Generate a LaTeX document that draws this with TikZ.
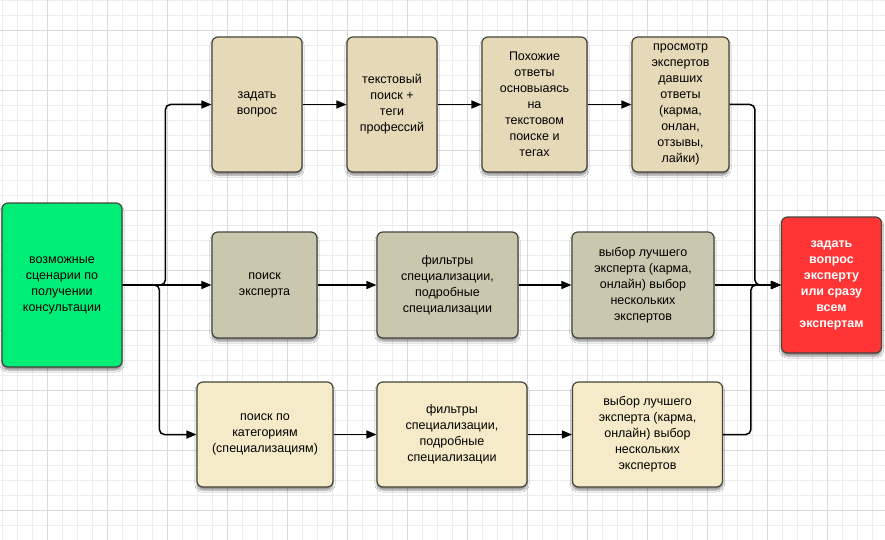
\documentclass[tikz,border=0pt]{standalone}
\usepackage{fontspec}
\setmainfont{Liberation Sans}
\usepackage{xcolor}
\usetikzlibrary{arrows.meta,shadows.blur}

\definecolor{startgreen}{HTML}{00EE78}
\definecolor{toptan}{HTML}{E6D9B8}
\definecolor{midgray}{HTML}{C9C8AE}
\definecolor{lowtan}{HTML}{F6EBC8}
\definecolor{endred}{HTML}{FF3535}
\definecolor{edge}{HTML}{45453C}
\definecolor{gridminor}{HTML}{EDEDED}
\definecolor{gridmajor}{HTML}{DADADA}

\tikzset{
  box/.style={draw=edge, line width=1.2pt, rounded corners=6pt, align=center,
    font=\fontsize{12.5}{16}\selectfont,
    blur shadow={shadow xshift=0pt, shadow yshift=-3pt, shadow blur steps=6, shadow opacity=45}},
  arr/.style={draw=black, line width=1.5pt, rounded corners=5pt,
    -{Triangle[length=10pt,width=8pt]}},
}

\begin{document}
\begin{tikzpicture}[x=1pt,y=-1pt]
\useasboundingbox (0,0) rectangle (885,540);
\fill[white] (0,0) rectangle (885,540);
% grid
\foreach \x in {2.3,17.3,...,885}
  \draw[gridminor, line width=0.8pt] (\x,0) -- (\x,540);
\foreach \y in {0.7,15.7,...,540}
  \draw[gridminor, line width=0.8pt] (0,\y) -- (885,\y);
\foreach \x in {47.3,107.3,...,885}
  \draw[gridmajor, line width=0.8pt] (\x,0) -- (\x,540);
\foreach \y in {30.7,90.7,...,540}
  \draw[gridmajor, line width=0.8pt] (0,\y) -- (885,\y);

% start and end
\node[box, fill=startgreen, minimum width=120pt, minimum height=164pt] (start) at (62,285)
  {возможные\\сценарии по\\получении\\консультации};
\node[box, fill=endred, text=white, font=\fontsize{12.5}{16}\selectfont\bfseries,
  minimum width=100pt, minimum height=136pt] (final) at (831.5,285)
  {задать\\вопрос\\эксперту\\или сразу\\всем\\экспертам};

% top row
\node[box, fill=toptan, minimum width=90pt, minimum height=135pt] (ask) at (257,104.5)
  {задать\\вопрос};
\node[box, fill=toptan, minimum width=90pt, minimum height=135pt] (search) at (392,104.5)
  {текстовый\\поиск +\\теги\\профессий};
\node[box, fill=toptan, minimum width=105pt, minimum height=135pt] (similar) at (534.5,104.5)
  {Похожие\\ответы\\основыаясь\\на\\текстовом\\поиске и\\тегах};
\node[box, fill=toptan, minimum width=97pt, minimum height=135pt] (view) at (680.5,104.5)
  {просмотр\\экспертов\\давших\\ответы\\(карма,\\онлан,\\отзывы,\\лайки)};

% middle row
\node[box, fill=midgray, minimum width=105pt, minimum height=106pt] (expert) at (264.5,285)
  {поиск\\эксперта};
\node[box, fill=midgray, minimum width=141pt, minimum height=106pt] (filtA) at (447.5,285)
  {фильтры\\специализации,\\подробные\\специализации};
\node[box, fill=midgray, minimum width=142pt, minimum height=106pt] (pickA) at (643,285)
  {выбор лучшего\\эксперта (карма,\\онлайн) выбор\\нескольких\\экспертов};

% bottom row
\node[box, fill=lowtan, minimum width=136pt, minimum height=105pt] (cat) at (265,434.5)
  {поиск по\\категориям\\(специализациям)};
\node[box, fill=lowtan, minimum width=150pt, minimum height=105pt] (filtB) at (452,434.5)
  {фильтры\\специализации,\\подробные\\специализации};
\node[box, fill=lowtan, minimum width=150pt, minimum height=105pt] (pickB) at (647.5,434.5)
  {выбор лучшего\\эксперта (карма,\\онлайн) выбор\\нескольких\\экспертов};

% connectors
\draw[arr] (start.east) -| ([xshift=-46pt]ask.west) -- (ask.west);
\draw[arr] (start.east) -- (expert.west);
\draw[arr] (start.east) -| ([xshift=-37pt]cat.west) -- (cat.west);
\draw[arr] (ask) -- (search);
\draw[arr] (search) -- (similar);
\draw[arr] (similar) -- (view);
\draw[arr] (expert) -- (filtA);
\draw[arr] (filtA) -- (pickA);
\draw[arr] (cat) -- (filtB);
\draw[arr] (filtB) -- (pickB);
\draw[arr] (view.east) -| ([xshift=-26pt]final.west) -- (final.west);
\draw[arr] (pickA.east) -- (final.west);
\draw[arr] (pickB.east) -| ([xshift=-30pt]final.west) -- (final.west);
\end{tikzpicture}
\end{document}
